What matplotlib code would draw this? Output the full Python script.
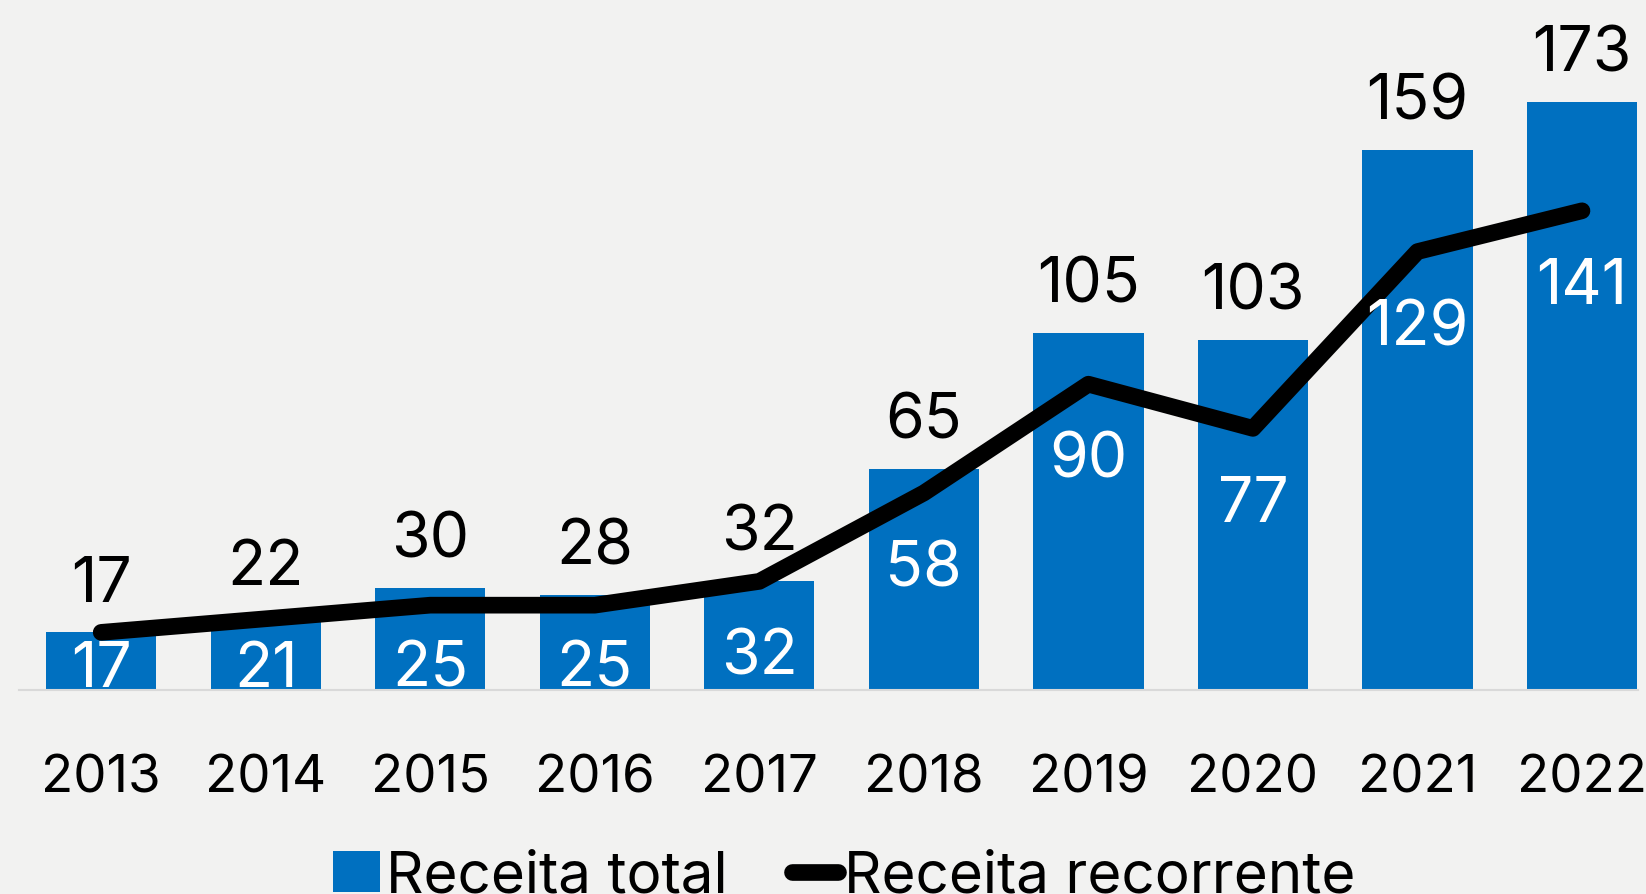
import matplotlib.pyplot as plt
from matplotlib.lines import Line2D
from matplotlib.patches import Patch

years = ["2013", "2014", "2015", "2016", "2017", "2018", "2019", "2020", "2021", "2022"]
receita_total = [17, 22, 30, 28, 32, 65, 105, 103, 159, 173]
receita_recorrente = [17, 21, 25, 25, 32, 58, 90, 77, 129, 141]

blue = "#0070c0"
bg = "#f2f2f1"

plt.rcParams["font.family"] = ["Inter", "DejaVu Sans"]


def main():
    fig = plt.figure(figsize=(16.46, 8.94), dpi=100, facecolor=bg)
    ax = fig.add_axes([0.0115, 0.228, 0.9836, 0.772])
    ax.set_facecolor(bg)

    x = list(range(len(years)))
    ax.bar(x, receita_total, width=0.67, color=blue, zorder=2)
    ax.plot(x, receita_recorrente, color="black", lw=12,
            solid_capstyle="round", solid_joinstyle="round", zorder=3)

    # labels above bars
    for xi, v in zip(x, receita_total):
        ax.annotate(str(v), (xi, v), xytext=(0, 22), textcoords="offset points",
                    ha="center", va="baseline", fontsize=45, color="black", zorder=4)
    # labels for the line, inside the bars
    for xi, v in zip(x, receita_recorrente):
        ax.text(xi, max(v - 27.5, 1.0), str(v), ha="center", va="baseline",
                fontsize=45, color="white", zorder=4)

    ax.set_xlim(-0.5, 9.34)
    ax.set_ylim(0, 203)
    ax.set_yticks([])
    ax.set_xticks(x)
    ax.set_xticklabels(years, fontsize=38)
    ax.tick_params(axis="x", length=0, pad=46)
    for side in ["left", "right", "top"]:
        ax.spines[side].set_visible(False)
    ax.spines["bottom"].set_color("#d9d9d9")
    ax.spines["bottom"].set_linewidth(1.5)

    handles = [
        Patch(facecolor=blue, edgecolor="none", label="Receita total"),
        Line2D([0], [0], color="black", lw=12, solid_capstyle="round",
               label="Receita recorrente"),
    ]
    fig.legend(handles=handles, loc="upper center", bbox_to_anchor=(0.513, 0.075),
               ncol=2, frameon=False, fontsize=42, handlelength=0.8,
               handletextpad=0.1, columnspacing=1.1, borderaxespad=0)

    fig.savefig("out.png", dpi=100, facecolor=bg)
    plt.close(fig)


if __name__ == "__main__":
    main()
